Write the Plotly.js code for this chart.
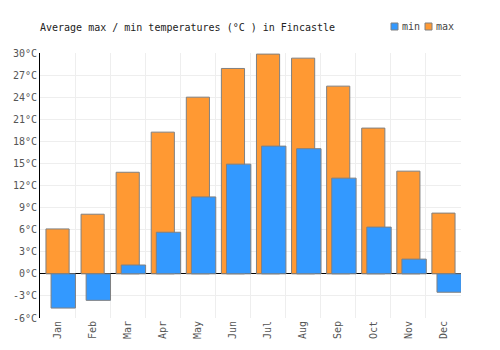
<!DOCTYPE html>
<html>
<head>
<meta charset="utf-8">
<script src="https://cdn.plot.ly/plotly-3.0.1.min.js"></script>
<style>html,body{margin:0;padding:0;background:#fff}#chart{width:500px;height:350px}</style>
</head>
<body>
<div id="chart"></div>
<script>
const months = ["Jan","Feb","Mar","Apr","May","Jun","Jul","Aug","Sep","Oct","Nov","Dec"];
const maxTemps = [6.1, 8.1, 13.8, 19.25, 24.0, 27.9, 29.85, 29.3, 25.5, 19.8, 13.95, 8.25];
const minTemps = [-4.65, -3.6, 1.2, 5.65, 10.45, 14.9, 17.35, 17.0, 13.0, 6.35, 2.0, -2.5];
const yTicks = [-6, -3, 0, 3, 6, 9, 12, 15, 18, 21, 24, 27, 30];
const yTickText = yTicks.map(v => v + "°C");
const seriesNames = ["min", "max"];
const seriesColors = ["#3399ff", "#ff9933"];

const font = "DejaVu Sans Mono, monospace";
const W = 500, H = 350, L = 40, R = 39, T = 53, B = 32;
const pw = W - L - R, ph = H - T - B;
const px = v => (v - L) / pw;
const py = v => (H - B - v) / ph;

const traces = [
  {type: "bar", name: "max", x: months, y: maxTemps,
   offset: -0.33, width: 0.66,
   marker: {color: seriesColors[1], line: {color: "#808080", width: 1}},
   hoverinfo: "none"},
  {type: "bar", name: "min", x: months, y: minTemps,
   offset: -0.185, width: 0.695,
   marker: {color: seriesColors[0], line: {color: "#808080", width: 1}},
   hoverinfo: "none"}
];

// custom legend (swatch + label)
const legendX = [391, 425];
const shapes = [], annotations = [];
seriesNames.forEach((n, i) => {
  shapes.push({type: "rect", xref: "paper", yref: "paper",
    x0: px(legendX[i]), x1: px(legendX[i] + 7), y0: py(30), y1: py(23),
    fillcolor: seriesColors[i], line: {color: "#808080", width: 1}});
  annotations.push({xref: "paper", yref: "paper", x: px(legendX[i] + 9), y: py(26.5),
    xanchor: "left", yanchor: "middle", text: n, showarrow: false,
    font: {family: font, size: 10, color: "#444"}});
});

const layout = {
  width: W, height: H,
  margin: {l: L, r: R, t: T, b: B},
  paper_bgcolor: "#fff", plot_bgcolor: "#fff",
  barmode: "overlay",
  title: {text: "Average max / min temperatures (°C ) in Fincastle",
          font: {family: font, size: 10, color: "#222"},
          x: 40/500, xanchor: "left", y: 1 - 27/350, yanchor: "middle"},
  showlegend: false,
  shapes: shapes,
  annotations: annotations,
  xaxis: {type: "category", tickson: "boundaries", showgrid: true,
          gridcolor: "#eeeeee", gridwidth: 1, ticks: "", tickangle: -90,
          tickfont: {family: font, size: 10, color: "#555"},
          showline: false, zeroline: false, range: [-0.5, 11.5], fixedrange: true},
  yaxis: {range: [-6, 30], tickvals: yTicks, ticktext: yTickText,
          showgrid: true, gridcolor: "#eeeeee", gridwidth: 1,
          zeroline: true, zerolinecolor: "#000", zerolinewidth: 1,
          showline: true, linecolor: "#000", linewidth: 1,
          ticks: "", tickfont: {family: font, size: 10, color: "#555"},
          fixedrange: true}
};
Plotly.newPlot("chart", traces, layout, {displayModeBar: false, staticPlot: true});
</script>
</body>
</html>
